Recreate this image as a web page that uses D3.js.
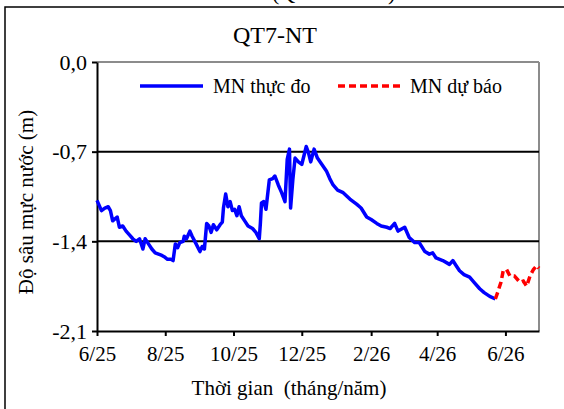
<!DOCTYPE html>
<html><head><meta charset="utf-8">
<script src="https://cdn.jsdelivr.net/npm/d3@7"></script>
<style>
html,body{margin:0;padding:0;background:#fff;}
svg{display:block;}
svg text{white-space:pre;}
</style></head>
<body><svg id="c" width="564" height="409"></svg>
<script>
const observedDates = ["2025-06-01","2025-06-05","2025-06-08","2025-06-11","2025-06-13","2025-06-15","2025-06-19","2025-06-21","2025-06-24","2025-06-27","2025-06-30","2025-07-03","2025-07-06","2025-07-09","2025-07-12","2025-07-14","2025-07-17","2025-07-20","2025-07-23","2025-07-26","2025-07-29","2025-07-31","2025-08-03","2025-08-06","2025-08-08","2025-08-10","2025-08-12","2025-08-14","2025-08-17","2025-08-18","2025-08-20","2025-08-23","2025-08-25","2025-08-28","2025-09-01","2025-09-03","2025-09-05","2025-09-07","2025-09-09","2025-09-11","2025-09-13","2025-09-16","2025-09-19","2025-09-21","2025-09-22","2025-09-24","2025-09-26","2025-09-28","2025-09-30","2025-10-02","2025-10-04","2025-10-06","2025-10-08","2025-10-11","2025-10-14","2025-10-18","2025-10-21","2025-10-24","2025-10-25","2025-10-26","2025-10-28","2025-10-30","2025-11-02","2025-11-05","2025-11-07","2025-11-10","2025-11-13","2025-11-16","2025-11-18","2025-11-20","2025-11-21","2025-11-23","2025-11-25","2025-11-28","2025-12-01","2025-12-05","2025-12-07","2025-12-09","2025-12-12","2025-12-15","2025-12-19","2025-12-23","2025-12-26","2025-12-29","2026-01-02","2026-01-07","2026-01-13","2026-01-19","2026-01-23","2026-01-28","2026-02-01","2026-02-06","2026-02-10","2026-02-15","2026-02-18","2026-02-22","2026-02-25","2026-03-03","2026-03-07","2026-03-12","2026-03-16","2026-03-21","2026-03-25","2026-03-28","2026-03-31","2026-04-06","2026-04-12","2026-04-15","2026-04-18","2026-04-21","2026-04-25","2026-04-30","2026-05-04","2026-05-09","2026-05-13","2026-05-18","2026-05-23"];
const observedValues = [-1.08,-1.16,-1.14,-1.13,-1.16,-1.24,-1.21,-1.29,-1.28,-1.32,-1.35,-1.38,-1.40,-1.38,-1.46,-1.38,-1.42,-1.46,-1.49,-1.50,-1.51,-1.52,-1.54,-1.54,-1.55,-1.42,-1.45,-1.41,-1.40,-1.36,-1.38,-1.32,-1.36,-1.41,-1.48,-1.44,-1.46,-1.26,-1.28,-1.33,-1.27,-1.31,-1.27,-1.25,-1.14,-1.03,-1.13,-1.09,-1.16,-1.15,-1.20,-1.13,-1.20,-1.24,-1.28,-1.30,-1.33,-1.38,-1.26,-1.10,-1.09,-1.15,-0.92,-0.91,-0.89,-0.96,-1.02,-1.09,-0.76,-0.68,-1.14,-0.92,-0.75,-0.78,-0.80,-0.66,-0.71,-0.78,-0.68,-0.75,-0.80,-0.85,-0.91,-0.96,-1.00,-1.02,-1.07,-1.11,-1.14,-1.21,-1.23,-1.26,-1.28,-1.29,-1.30,-1.26,-1.32,-1.29,-1.37,-1.41,-1.41,-1.48,-1.50,-1.49,-1.53,-1.55,-1.58,-1.55,-1.59,-1.63,-1.66,-1.68,-1.72,-1.77,-1.80,-1.83,-1.85];
const forecastDates = ["2026-05-23","2026-05-25","2026-05-28","2026-05-30","2026-06-02","2026-06-05","2026-06-09","2026-06-14","2026-06-17","2026-06-20","2026-06-23","2026-06-26","2026-06-29","2026-07-01"];
const forecastValues = [-1.85,-1.80,-1.72,-1.63,-1.62,-1.67,-1.67,-1.72,-1.71,-1.75,-1.67,-1.62,-1.59,-1.61];
const xTickDates = ["2025-06-01","2025-08-01","2025-10-01","2025-12-01","2026-02-01","2026-04-01","2026-06-01"];
const xTickLabels = ["6/25","8/25","10/25","12/25","2/26","4/26","6/26"];
const yTickValues = [0, -0.7, -1.4, -2.1];
const yTickLabels = ["0,0","-0,7","-1,4","-2,1"];
const gridValues = [-0.7, -1.4];
const seriesNames = ["MN thực đo","MN dự báo"];
const chartTitle = "QT7-NT";
const xTitle = "Thời gian  (tháng/năm)";
const yTitle = "Độ sâu mực nước (m)";

const FONT = "'Liberation Serif', 'DejaVu Serif', serif";
const parse = d3.timeParse("%Y-%m-%d");
const svg = d3.select("#c").attr("font-family", FONT);
const L = 97, R = 539, T = 62, B = 331;

function txt(s){ return svg.append("text").attr("font-family", FONT).attr("fill","#000").text(s); }

// fragment of caption above chart (cut off by the top edge, as in the source)
txt("(Q").attr("x",272).attr("y",0).attr("font-size",22);
txt(")").attr("x",388).attr("y",0).attr("font-size",22);

svg.append("rect").attr("x",5).attr("y",7).attr("width",570).attr("height",420)
  .attr("fill","#fff").attr("stroke","#000").attr("stroke-width",1.5);

const x = d3.scaleTime().domain([parse("2025-06-01"), parse("2026-07-01")]).range([L, R]);
const y = d3.scaleLinear().domain([-2.1, 0]).range([B, T]);

svg.append("line").attr("x1",L).attr("x2",R).attr("y1",T).attr("y2",T).attr("stroke","#8c8c8c").attr("stroke-width",2);
svg.append("line").attr("x1",R).attr("x2",R).attr("y1",T).attr("y2",B).attr("stroke","#8c8c8c").attr("stroke-width",2);

svg.append("g").selectAll("line").data(gridValues).join("line")
  .attr("x1",L).attr("x2",R).attr("y1",d=>y(d)).attr("y2",d=>y(d))
  .attr("stroke","#000").attr("stroke-width",2);

const xAxis = d3.axisBottom(x).tickValues(xTickDates.map(parse))
  .tickFormat((d,i)=>xTickLabels[i]).tickSizeInner(5).tickSizeOuter(0).tickPadding(10);
const gx = svg.append("g").attr("transform",`translate(0,${B})`).call(xAxis);
const yAxis = d3.axisLeft(y).tickValues(yTickValues)
  .tickFormat((d,i)=>yTickLabels[i]).tickSizeInner(5).tickSizeOuter(0).tickPadding(5);
const gy = svg.append("g").attr("transform",`translate(${L},0)`).call(yAxis);
[gx,gy].forEach(g=>{
  g.attr("font-family", FONT).attr("font-size",21);
  g.select(".domain").attr("stroke","#000").attr("stroke-width",2);
  g.selectAll(".tick line").attr("stroke","#000").attr("stroke-width",2);
  g.selectAll(".tick text").attr("font-family", FONT).attr("font-size",21).attr("fill","#000");
});
gy.selectAll(".tick text").attr("font-size",22);

const line = d3.line().x(d=>x(d[0])).y(d=>y(d[1]));
const obs = observedDates.map((d,i)=>[parse(d), observedValues[i]]);
const fc = forecastDates.map((d,i)=>[parse(d), forecastValues[i]]);
svg.append("path").datum(obs).attr("d",line).attr("fill","none")
  .attr("stroke","#0000ff").attr("stroke-width",3.5).attr("stroke-linejoin","round");
svg.append("path").datum(fc).attr("d",line).attr("fill","none")
  .attr("stroke","#ff0000").attr("stroke-width",3.5).attr("stroke-dasharray","7,4");

txt(chartTitle).attr("x",275).attr("y",43).attr("text-anchor","middle").attr("font-size",24);

svg.append("line").attr("x1",140).attr("x2",203).attr("y1",86).attr("y2",86)
  .attr("stroke","#0000ff").attr("stroke-width",3.5);
txt(seriesNames[0]).attr("x",213).attr("y",93).attr("font-size",20);
svg.append("line").attr("x1",338).attr("x2",402).attr("y1",86).attr("y2",86)
  .attr("stroke","#ff0000").attr("stroke-width",3.5).attr("stroke-dasharray","7,4");
txt(seriesNames[1]).attr("x",410).attr("y",93).attr("font-size",20);

txt(xTitle).attr("x",289).attr("y",395).attr("text-anchor","middle").attr("font-size",21);
txt(yTitle).attr("transform","translate(33,202) rotate(-90)").attr("text-anchor","middle").attr("font-size",21);
</script></body></html>
